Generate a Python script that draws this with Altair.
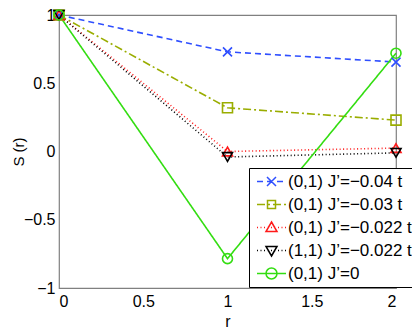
import altair as alt
import pandas as pd

series = ["(0,1) J\u2019=\u22120.04 t", "(0,1) J\u2019=\u22120.03 t", "(0,1) J\u2019=\u22120.022 t",
          "(1,1) J\u2019=\u22120.022 t", "(0,1) J\u2019=0"]
r_vals = [0, 1, 2]
s_vals = [
    [1.0, 0.73, 0.655],
    [1.0, 0.32, 0.23],
    [1.0, 0.0, 0.025],
    [1.0, -0.04, -0.01],
    [1.0, -0.785, 0.72],
]
colors = ["#2f4fff", "#9aad00", "#ff1a1a", "#000000", "#33dd11"]
dashes = [[6, 4], [8, 3, 2, 3], [1, 2.5], [1, 2.5], [1, 0]]

# marker outlines in unit coordinates
X_PATH = "M-0.9,-0.9L0.9,0.9M-0.9,0.9L0.9,-0.9"
SQ_PATH = "M-0.8,-0.8L0.8,-0.8L0.8,0.8L-0.8,0.8Z"
TU_PATH = "M0,-1.1L1.1,0.8L-1.1,0.8Z"
TD_PATH = "M0,1.1L1.1,-0.8L-1.1,-0.8Z"
CI_PATH = "M1.1,0A1.1,1.1 0 1,1 -1.1,0A1.1,1.1 0 1,1 1.1,0Z"
markers = [X_PATH, SQ_PATH, TU_PATH, TD_PATH, CI_PATH]
plot_shapes = [X_PATH, "square", "triangle-up", "triangle-down", "circle"]

LEG_SIZE = 100  # unit = sqrt(size)/2 = 5 px


def dashed_segment(pattern_px, half=2.9, unit=5.0):
    """Horizontal line from -half to +half (units) with dash pattern in px."""
    pat = [p / unit for p in pattern_px]
    if pat[-1] == 0 or len(pat) < 2:
        return "M%.2f,0L%.2f,0" % (-half, half)
    out, pos, i, on = [], -half, 0, True
    while pos < half:
        seg = min(pat[i % len(pat)], half - pos)
        if on and seg > 0:
            out.append("M%.2f,0L%.2f,0" % (pos, pos + seg))
        pos += pat[i % len(pat)]
        i += 1
        on = not on
    return "".join(out)


legend_paths = [dashed_segment(d) + m for d, m in zip(dashes, markers)]

rows = []
for name, vals in zip(series, s_vals):
    for r, s in zip(r_vals, vals):
        rows.append({"r": r, "S": s, "series": name, "key": name})
df = pd.DataFrame(rows)

font = "Liberation Sans"
x = alt.X("r:Q", title="r", scale=alt.Scale(domain=[0, 2], nice=False),
          axis=alt.Axis(values=[0, 0.5, 1, 1.5, 2], format="~g", grid=False, ticks=False,
                        domain=False, labelPadding=5, titlePadding=4))
y = alt.Y("S:Q", title="S (r)", scale=alt.Scale(domain=[-1, 1], nice=False),
          axis=alt.Axis(values=[-1, -0.5, 0, 0.5, 1], format="~g", grid=False, ticks=False,
                        domain=False, labelPadding=4, titleX=-33, titleFontSize=15))
color = alt.Color("series:N", scale=alt.Scale(domain=series, range=colors), legend=None)
dash = alt.StrokeDash("series:N", scale=alt.Scale(domain=series, range=dashes), legend=None)
shape = alt.Shape("series:N", scale=alt.Scale(domain=series, range=plot_shapes), legend=None)

leg = dict(title=None, orient="none", legendX=190, legendY=153,
           fillColor="white", strokeColor="black", padding=5,
           labelFont=font, labelFontSize=17, labelLimit=300,
           symbolSize=LEG_SIZE, symbolStrokeWidth=1.5, symbolFillColor="transparent",
           symbolOpacity=1, symbolOffset=9, labelOffset=8, rowPadding=5)

lines = alt.Chart(df).mark_line(strokeWidth=1.6).encode(x=x, y=y, color=color, strokeDash=dash,
                                                         detail="series:N")
points = alt.Chart(df).mark_point(filled=False, strokeWidth=1.6, size=100, opacity=1).encode(
    x=x, y=y, color=color, shape=shape)

legend_layer = alt.Chart(df).mark_point(filled=False, size=LEG_SIZE, strokeOpacity=0,
                                        fillOpacity=0).encode(
    x=x, y=y,
    color=alt.Color("key:N", scale=alt.Scale(domain=series, range=colors),
                    legend=alt.Legend(**leg)),
    shape=alt.Shape("key:N", scale=alt.Scale(domain=series, range=legend_paths),
                    legend=alt.Legend(**leg)))

chart = alt.layer(lines, points, legend_layer).resolve_scale(
    shape="independent", color="independent").properties(
    width=337, height=273,
    autosize=alt.AutoSizeParams(type="none"),
    padding={"left": 51, "top": 7, "right": 16, "bottom": 40},
).configure_view(stroke="#808080", strokeWidth=1.2).configure_axis(
    labelFont=font, labelFontSize=16, titleFont=font, titleFontSize=16,
    titleFontWeight="normal", labelColor="black", titleColor="black"
)

chart.save("out.html", embed_options={"renderer": "svg", "actions": False})
